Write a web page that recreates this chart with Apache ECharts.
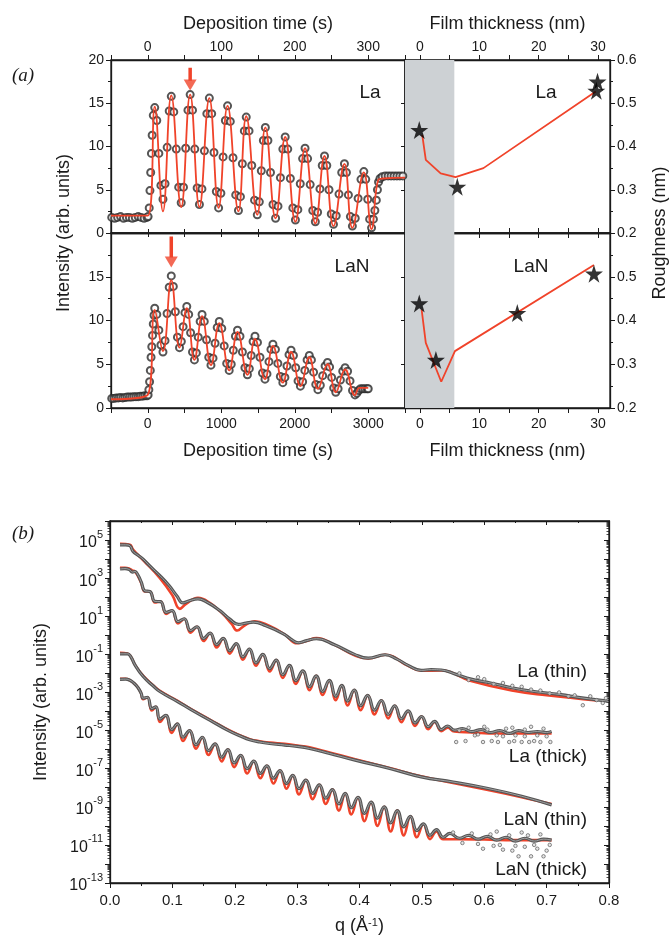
<!DOCTYPE html>
<html>
<head>
<meta charset="utf-8">
<script src="https://cdn.jsdelivr.net/npm/echarts@6.0.0/dist/echarts.min.js"></script>
<style>
  html, body { margin: 0; padding: 0; background: #fff; }
  #chart { width: 670px; height: 943px; }
</style>
</head>
<body>
<div id="chart"></div>
<script>
// ---- (a) in-situ intensity during deposition: [time s, intensity] ----
const laMeasured = [
  [-49, 1.8], [-45, 1.7], [-41, 1.8], [-37, 1.9], [-33, 1.7], [-29, 1.8], [-25, 1.8], [-21, 1.7], [-17, 1.8], [-13, 1.9], [-9, 1.8], [-5, 1.7], [-1, 1.8],
  [0.5, 1.9], [2, 2.9], [3, 4.9], [4, 7.0], [5, 9.2], [6, 11.3], [7.5, 13.6], [9.5, 14.5],
  [12.3, 13.0], [15.1, 9.2], [17.9, 5.5], [20.7, 3.9], [23.5, 5.7], [26.4, 9.9], [29.2, 14.1], [32, 15.8],
  [35.4, 14.0], [38.8, 9.7], [42.1, 5.3], [45.5, 3.5], [48.6, 5.3], [51.6, 9.8], [54.7, 14.2], [57.7, 16.0],
  [60.9, 14.2], [64, 9.7], [67.2, 5.2], [70.3, 3.3], [73.7, 5.1], [77.1, 9.5], [80.4, 13.8], [83.8, 15.6],
  [87, 13.8], [90.1, 9.3], [93.3, 4.8], [96.4, 2.9], [99.5, 4.6], [102.5, 8.8], [105.6, 13.0], [108.6, 14.7],
  [112.3, 12.9], [116, 8.7], [119.7, 4.4], [123.4, 2.6], [126.1, 4.2], [128.7, 8.0], [131.4, 11.8], [134, 13.4],
  [137.8, 11.8], [141.5, 7.8], [145.3, 3.8], [149, 2.1], [151.8, 3.6], [154.5, 7.2], [157.3, 10.7], [160, 12.2],
  [163.5, 10.7], [167, 7.0], [170.4, 3.3], [173.9, 1.7], [177.2, 3.1], [180.5, 6.4], [183.8, 9.7], [187, 11.1],
  [190.5, 9.7], [194, 6.3], [197.4, 2.9], [200.9, 1.5], [204.2, 2.7], [207.5, 5.7], [210.7, 8.6], [214, 9.8],
  [217.5, 8.6], [221, 5.6], [224.5, 2.6], [228, 1.3], [231.1, 2.4], [234.3, 5.1], [237.4, 7.8], [240.5, 8.9],
  [243.6, 7.8], [246.6, 5.0], [249.7, 2.2], [252.7, 1.0], [256.4, 2.0], [260.2, 4.5], [263.9, 7.0], [267.6, 8.0],
  [270.3, 7.0], [273, 4.4], [275.7, 1.9], [278.4, 0.8], [282.3, 1.7], [286.2, 4.0], [290.1, 6.2], [294, 7.1],
  [296.6, 6.2], [299.3, 3.9], [301.9, 1.6], [304.5, 0.6], [307, 1.6], [309, 2.6], [311, 3.8], [312.5, 5.0], [314, 5.9],
  [316, 6.3], [319, 6.5], [323, 6.6], [327, 6.6], [331, 6.6], [335, 6.6], [339, 6.6], [343, 6.6], [347, 6.6]
];
const laFit = [
  [-50, 2.0], [0, 2.0], [9.5, 14.6], [20.7, 2.5], [32, 15.9], [45.5, 3.0], [57.7, 16.0], [70.3, 3.0],
  [83.8, 15.6], [96.4, 2.9], [108.6, 14.7], [123.4, 2.5], [134, 13.5], [149, 2.1], [160, 12.2],
  [173.9, 1.7], [187, 11.1], [200.9, 1.3], [214, 9.8], [228, 1.1], [240.5, 8.9], [252.7, 0.8],
  [267.6, 8.0], [278.4, 0.6], [294, 7.0], [304.5, 0.45], [314, 6.2], [320, 6.3], [350, 6.4]
];
const laArrow = [[57.7, 19.1], [57.7, 17.6]];
const laArrowHead = [[57.7, 17.1]];

const lanMeasured = [
  [-490, 1.1], [-460, 1.1], [-430, 1.15], [-400, 1.15], [-370, 1.2], [-340, 1.15], [-310, 1.2], [-280, 1.25], [-250, 1.25],
  [-220, 1.25], [-190, 1.3], [-160, 1.3], [-130, 1.3], [-100, 1.35], [-70, 1.35], [-40, 1.4], [-10, 1.4],
  [5, 1.5], [15, 2.1], [25, 3.0], [35, 4.3], [45, 5.8], [55, 7.0], [65, 8.3], [75, 9.6], [85, 10.6], [95, 11.4],
  [123, 10.7], [151, 8.9], [179, 7.2], [207, 6.4], [235, 7.7], [263, 10.8], [292, 13.8], [320, 15.1],
  [348, 13.9], [376, 11.0], [404, 8.1], [432, 6.9], [457, 7.6], [481, 9.3], [506, 10.9], [531, 11.6],
  [557, 10.7], [583, 8.6], [609, 6.4], [635, 5.5], [661, 6.3], [687, 8.1], [713, 9.9], [739, 10.7],
  [769, 9.9], [800, 7.8], [830, 5.8], [860, 4.9], [888, 5.7], [916, 7.4], [945, 9.2], [973, 9.9],
  [1007, 9.1], [1040, 7.1], [1074, 5.1], [1108, 4.3], [1136, 5.0], [1164, 6.6], [1193, 8.2], [1221, 8.9],
  [1255, 8.2], [1288, 6.4], [1322, 4.6], [1356, 3.8], [1382, 4.5], [1407, 6.0], [1433, 7.6], [1459, 8.2],
  [1493, 7.5], [1527, 5.8], [1561, 4.0], [1595, 3.3], [1622, 3.9], [1649, 5.3], [1676, 6.7], [1703, 7.3],
  [1737, 6.7], [1770, 5.1], [1804, 3.6], [1838, 2.9], [1866, 3.5], [1894, 4.8], [1922, 6.1], [1950, 6.6],
  [1982, 6.0], [2013, 4.6], [2045, 3.1], [2077, 2.5], [2107, 3.0], [2137, 4.3], [2168, 5.5], [2198, 6.0],
  [2227, 5.5], [2256, 4.1], [2286, 2.7], [2315, 2.1], [2348, 2.6], [2380, 3.7], [2413, 4.8], [2446, 5.2],
  [2474, 4.7], [2502, 3.5], [2530, 2.3], [2558, 1.8], [2590, 2.2], [2621, 3.2], [2653, 4.2], [2685, 4.6],
  [2719, 4.2], [2752, 3.1], [2786, 2.0], [2820, 1.5], [2845, 1.7], [2870, 2.0], [2895, 2.2], [2925, 2.2],
  [2955, 2.2], [2985, 2.2], [3000, 2.2]
];
const lanFit = [
  [-500, 1.0], [0, 1.5], [95, 11.2], [207, 6.5], [320, 14.6], [432, 6.9], [531, 11.4], [635, 5.5],
  [739, 10.5], [860, 4.9], [973, 9.7], [1108, 4.3], [1221, 8.7], [1356, 3.8], [1459, 7.9],
  [1595, 3.3], [1703, 7.1], [1838, 2.9], [1950, 6.4], [2077, 2.5], [2198, 5.8], [2315, 2.2],
  [2446, 5.0], [2558, 1.8], [2685, 4.4], [2820, 1.45], [2880, 2.3], [3000, 2.3]
];
const lanArrow = [[320, 19.6], [320, 17.2]];
const lanArrowHead = [[320, 16.7]];

// ---- (a) roughness vs film thickness: [nm, nm] ----
const laRoughFit = [[0.4, 0.427], [1.0, 0.369], [3.5, 0.338], [6.0, 0.329], [10.7, 0.35], [29.6, 0.527]];
const laRoughStars = [[-0.1, 0.438], [6.3, 0.307], [29.9, 0.55], [29.7, 0.529]];
const lanRoughFit = [[0.3, 0.425], [1.0, 0.349], [3.6, 0.26], [5.9, 0.33], [29.3, 0.527]];
const lanRoughStars = [[-0.1, 0.439], [2.7, 0.31], [16.4, 0.417], [29.3, 0.507]];
const shadeRange = [-2.5, 5.8];

// ---- (b) XRR curves: [q 1/A, log10 intensity] ----
const laThinData = [
  [0.016, 4.75], [0.025, 4.75], [0.032, 4.7], [0.037, 4.4], [0.045, 4.2], [0.053, 4.0], [0.065, 3.6], [0.080, 3.13],
  [0.095, 2.6], [0.107, 2.08], [0.117, 1.70], [0.126, 1.8], [0.141, 1.91], [0.155, 1.75], [0.176, 1.30], [0.192, 0.85],
  [0.206, 0.57], [0.218, 0.64], [0.230, 0.69], [0.250, 0.50], [0.278, 0.08], [0.290, -0.2], [0.302, -0.39], [0.315, -0.28],
  [0.331, -0.18], [0.36, -0.5], [0.392, -1.0], [0.414, -1.2], [0.441, -1.02], [0.46, -1.25], [0.478, -1.58], [0.499, -1.84],
  [0.515, -1.8], [0.531, -1.82], [0.555, -2.05], [0.579, -2.3], [0.61, -2.5], [0.644, -2.75], [0.68, -2.95], [0.72, -3.1],
  [0.76, -3.3], [0.798, -3.45]
];
const laThinFit = [
  [0.016, 4.8], [0.032, 4.75], [0.037, 4.5], [0.053, 3.95], [0.080, 3.0], [0.100, 2.1], [0.112, 1.39], [0.122, 1.65],
  [0.141, 1.97], [0.160, 1.7], [0.180, 1.15], [0.195, 0.6], [0.204, 0.25], [0.215, 0.5], [0.232, 0.74], [0.255, 0.5],
  [0.28, 0.05], [0.30, -0.42], [0.315, -0.3], [0.331, -0.15], [0.36, -0.5], [0.392, -1.05], [0.414, -1.22], [0.441, -1.02],
  [0.478, -1.6], [0.499, -1.86], [0.531, -1.85], [0.579, -2.4], [0.644, -2.9], [0.70, -3.15], [0.78, -3.42]
];
const laThinScatter = [
  [0.56, -2.0], [0.575, -2.35], [0.59, -2.2], [0.60, -2.3], [0.615, -2.55], [0.63, -2.5], [0.645, -2.65], [0.66, -2.7],
  [0.675, -2.85], [0.69, -2.9], [0.705, -3.05], [0.72, -3.0], [0.735, -3.2], [0.745, -3.15], [0.758, -3.67], [0.77, -3.2],
  [0.78, -3.4], [0.79, -3.55], [0.795, -3.3]
];

const laThickData = [
  [0.016, 3.48], [0.024, 3.5], [0.031, 3.45], [0.036, 3.32], [0.040, 3.35], [0.045, 3.15], [0.050, 2.8],
  [0.056, 2.33], [0.064, 2.3], [0.072, 1.78], [0.081, 1.77], [0.090, 1.2], [0.0995, 1.3], [0.109, 0.72], [0.119, 0.87],
  [0.129, 0.25], [0.1395, 0.45], [0.150, -0.17], [0.1605, 0.12], [0.171, -0.49], [0.1815, -0.16], [0.192, -0.81], [0.2025, -0.44],
  [0.213, -1.13], [0.2235, -0.72], [0.234, -1.45], [0.245, -1.0], [0.256, -1.75], [0.2665, -1.3], [0.277, -2.07], [0.2875, -1.58],
  [0.298, -2.38], [0.309, -1.87], [0.320, -2.7], [0.3305, -2.13], [0.341, -2.95], [0.3515, -2.37], [0.362, -3.2], [0.3715, -2.63],
  [0.381, -3.45], [0.3915, -2.87], [0.402, -3.7], [0.413, -3.15], [0.424, -3.93], [0.435, -3.42], [0.446, -4.15], [0.4565, -3.7],
  [0.467, -4.38], [0.478, -3.97], [0.489, -4.6], [0.4995, -4.26], [0.510, -4.8], [0.5205, -4.52], [0.531, -4.95], [0.5415, -4.76],
  [0.552, -4.98], [0.565, -4.9], [0.58, -5.05], [0.595, -4.95], [0.61, -5.1], [0.625, -5.0], [0.64, -5.15], [0.655, -5.0],
  [0.67, -5.1], [0.685, -5.05], [0.70, -5.1], [0.708, -5.05]
];
const laThickFit = [
  [0.016, 3.55], [0.024, 3.55], [0.031, 3.5], [0.036, 3.4], [0.040, 3.35], [0.045, 3.1], [0.050, 2.75],
  [0.056, 2.3], [0.064, 2.3], [0.072, 1.72], [0.081, 1.77], [0.090, 1.12], [0.0995, 1.3], [0.109, 0.62], [0.119, 0.87],
  [0.129, 0.14], [0.1395, 0.45], [0.150, -0.3], [0.1605, 0.12], [0.171, -0.64], [0.1815, -0.16], [0.192, -0.96], [0.2025, -0.44],
  [0.213, -1.28], [0.2235, -0.72], [0.234, -1.6], [0.245, -1.0], [0.256, -1.9], [0.2665, -1.3], [0.277, -2.24], [0.2875, -1.58],
  [0.298, -2.55], [0.309, -1.87], [0.320, -2.88], [0.3305, -2.13], [0.341, -3.13], [0.3515, -2.37], [0.362, -3.4], [0.3715, -2.63],
  [0.381, -3.68], [0.3915, -2.87], [0.402, -3.93], [0.413, -3.15], [0.424, -4.15], [0.435, -3.42], [0.446, -4.36], [0.4565, -3.7],
  [0.467, -4.56], [0.478, -3.97], [0.489, -4.76], [0.4995, -4.26], [0.510, -4.93], [0.5205, -4.55], [0.531, -5.03], [0.5415, -4.85],
  [0.552, -5.05], [0.58, -5.1], [0.62, -5.15], [0.66, -5.15], [0.708, -5.15]
];
const laThickScatter = [
  [0.555, -5.6], [0.57, -5.55], [0.585, -5.25], [0.598, -5.6], [0.612, -5.55], [0.622, -5.6], [0.63, -5.3], [0.64, -5.6],
  [0.648, -5.55], [0.66, -5.6], [0.665, -5.3], [0.672, -5.6], [0.68, -5.55], [0.69, -5.6], [0.70, -5.3], [0.706, -5.6],
  [0.60, -4.8], [0.645, -4.85], [0.675, -4.8],
  [0.56, -5.0], [0.575, -4.85], [0.59, -5.2], [0.605, -4.95], [0.62, -5.25], [0.635, -4.9], [0.65, -5.25], [0.665, -4.95],
  [0.685, -5.25], [0.695, -4.9]
];

const lanThinData = [
  [0.016, -0.97], [0.028, -0.97], [0.033, -1.1], [0.04, -1.55], [0.053, -2.15], [0.069, -2.65], [0.08, -2.95], [0.107, -3.45],
  [0.13, -3.9], [0.16, -4.45], [0.19, -5.0], [0.21, -5.3], [0.224, -5.48], [0.24, -5.6], [0.256, -5.68], [0.28, -5.76],
  [0.30, -5.83], [0.32, -5.94], [0.352, -6.2], [0.393, -6.55], [0.45, -7.0], [0.499, -7.43], [0.55, -7.7], [0.606, -8.04],
  [0.66, -8.45], [0.708, -8.9]
];
const lanThinFit = [
  [0.016, -0.92], [0.028, -0.95], [0.033, -1.1], [0.04, -1.55], [0.053, -2.12], [0.069, -2.62], [0.08, -2.92], [0.107, -3.42],
  [0.13, -3.88], [0.16, -4.42], [0.19, -4.97], [0.21, -5.27], [0.224, -5.45], [0.24, -5.56], [0.256, -5.63], [0.28, -5.7],
  [0.30, -5.78], [0.32, -5.88], [0.352, -6.15], [0.393, -6.5], [0.45, -6.98], [0.499, -7.4], [0.55, -7.75], [0.606, -8.12],
  [0.66, -8.5], [0.708, -8.85]
];

const lanThickData = [
  [0.016, -2.31], [0.025, -2.3], [0.032, -2.36], [0.038, -2.5], [0.045, -2.75], [0.050, -3.05],
  [0.053, -3.3], [0.060, -3.25], [0.067, -3.85], [0.0735, -3.75], [0.080, -4.4], [0.0895, -4.2], [0.099, -4.95], [0.108, -4.65],
  [0.117, -5.35], [0.1275, -5.0], [0.138, -5.75], [0.148, -5.35], [0.158, -6.05], [0.1685, -5.7], [0.179, -6.4], [0.189, -6.0],
  [0.199, -6.7], [0.2095, -6.3], [0.220, -7.0], [0.2305, -6.6], [0.241, -7.25], [0.2515, -6.85], [0.262, -7.5], [0.2725, -7.1],
  [0.283, -7.78], [0.293, -7.35], [0.303, -8.05], [0.314, -7.6], [0.325, -8.3], [0.3355, -7.85], [0.346, -8.55], [0.3565, -8.1],
  [0.367, -8.85], [0.377, -8.3], [0.387, -9.05], [0.3975, -8.5], [0.408, -9.35], [0.4185, -8.75], [0.429, -9.6], [0.4395, -9.0],
  [0.450, -9.85], [0.4605, -9.2], [0.471, -10.05], [0.4815, -9.5], [0.492, -10.25], [0.5025, -9.9], [0.513, -10.5], [0.5235, -10.2],
  [0.534, -10.6], [0.545, -10.4], [0.56, -10.65], [0.575, -10.5], [0.59, -10.7], [0.605, -10.55], [0.62, -10.75], [0.635, -10.6],
  [0.65, -10.8], [0.665, -10.65], [0.68, -10.8], [0.695, -10.7], [0.708, -10.75]
];
const lanThickFit = [
  [0.016, -2.28], [0.025, -2.28], [0.032, -2.36], [0.038, -2.5], [0.045, -2.75], [0.050, -3.05],
  [0.053, -3.35], [0.060, -3.25], [0.067, -3.95], [0.0735, -3.75], [0.080, -4.55], [0.0895, -4.2], [0.099, -5.12], [0.108, -4.65],
  [0.117, -5.55], [0.1275, -5.0], [0.138, -5.95], [0.148, -5.35], [0.158, -6.28], [0.1685, -5.7], [0.179, -6.62], [0.189, -6.0],
  [0.199, -6.92], [0.2095, -6.3], [0.220, -7.25], [0.2305, -6.6], [0.241, -7.5], [0.2515, -6.85], [0.262, -7.78], [0.2725, -7.1],
  [0.283, -8.05], [0.293, -7.35], [0.303, -8.35], [0.314, -7.6], [0.325, -8.6], [0.3355, -7.85], [0.346, -8.85], [0.3565, -8.1],
  [0.367, -9.2], [0.377, -8.3], [0.387, -9.4], [0.3975, -8.5], [0.408, -9.75], [0.4185, -8.75], [0.429, -10.0], [0.4395, -9.0],
  [0.450, -10.3], [0.4605, -9.2], [0.471, -10.5], [0.4815, -9.5], [0.492, -10.6], [0.5025, -9.9], [0.513, -10.7], [0.5235, -10.3],
  [0.534, -10.7], [0.56, -10.7], [0.60, -10.72], [0.65, -10.75], [0.708, -10.75]
];
const lanThickScatter = [
  [0.598, -11.2], [0.615, -11.05], [0.63, -11.25], [0.645, -11.3], [0.655, -11.6], [0.665, -11.1],
  [0.675, -11.6], [0.685, -11.2], [0.695, -11.6], [0.70, -11.3], [0.62, -10.3], [0.66, -10.35],
  [0.55, -10.35], [0.565, -10.9], [0.58, -10.4], [0.59, -10.95], [0.61, -10.45], [0.625, -11.0], [0.64, -10.5],
  [0.65, -11.05], [0.67, -10.5], [0.68, -11.0], [0.69, -10.45], [0.705, -11.0]
];

const FONT = '"Liberation Sans", Arial, sans-serif';
const INK = '#1a1a1a';
const RED = '#f0432a';
const STAR = 'path://M50,0 L61,35 L98,35 L68,57 L79,91 L50,70 L21,91 L32,57 L2,35 L39,35 Z';

// minor log ticks for the intensity axis of (b)
const logMinorTicks = [];
for (let e = -13; e < 6; e++) {
  for (let k = 2; k <= 9; k++) logMinorTicks.push(e + Math.log10(k));
}

function frameAxis(gridIndex, position, range, extra) {
  return Object.assign({
    gridIndex, position, type: 'value', min: range[0], max: range[1],
    axisLine: { show: true, onZero: false, lineStyle: { color: INK, width: 1.3 } },
    axisTick: { show: true, inside: true, length: 4, lineStyle: { color: INK } },
    axisLabel: { show: false },
    splitLine: { show: false },
  }, extra || {});
}

function labelAxis(gridIndex, position, range, extra) {
  return Object.assign({
    gridIndex, position, type: 'value', min: range[0], max: range[1],
    axisLine: { show: true, onZero: false, lineStyle: { color: INK, width: 1.3 } },
    axisTick: { show: true, length: 5, lineStyle: { color: INK } },
    axisLabel: { color: INK, fontFamily: FONT, fontSize: 14, margin: 7 },
    nameTextStyle: { color: INK, fontFamily: FONT, fontSize: 18 },
    nameLocation: 'middle',
    splitLine: { show: false },
  }, extra || {});
}

const thickTicks = [0, 5, 10, 15, 20, 25, 30];
const thickLabels = [0, 10, 20, 30];

const chart = echarts.init(document.getElementById('chart'), null, { renderer: 'canvas' });

chart.setOption({
  backgroundColor: '#fff',
  animation: false,
  grid: [
    { left: 111, top: 60, width: 294, height: 173, show: true, borderColor: INK, borderWidth: 1.3, outerBoundsMode: 'none' },
    { left: 111, top: 233, width: 294, height: 175, show: true, borderColor: INK, borderWidth: 1.3, outerBoundsMode: 'none' },
    { left: 405, top: 60, width: 205, height: 173, show: true, borderColor: INK, borderWidth: 1.3, outerBoundsMode: 'none' },
    { left: 405, top: 233, width: 205, height: 175, show: true, borderColor: INK, borderWidth: 1.3, outerBoundsMode: 'none' },
    { left: 110, top: 521, width: 499, height: 362, show: true, borderColor: INK, borderWidth: 1.3, outerBoundsMode: 'none' },
  ],
  xAxis: [
    labelAxis(0, 'top', [-50, 350], {
      interval: 50, name: 'Deposition time (s)', nameGap: 27,
      axisLabel: { color: INK, fontFamily: FONT, fontSize: 14, margin: 6, formatter: v => (v >= 0 && v % 100 === 0 ? v : '') },
    }),
    frameAxis(0, 'bottom', [-50, 350], { interval: 50 }),
    labelAxis(1, 'bottom', [-500, 3500], {
      interval: 500, name: 'Deposition time (s)', nameGap: 34,
      axisLabel: { color: INK, fontFamily: FONT, fontSize: 14, margin: 9, formatter: v => (v >= 0 && v % 1000 === 0 ? v : '') },
    }),
    frameAxis(1, 'top', [-500, 3500], { interval: 500 }),
    labelAxis(2, 'top', [-2.5, 32], {
      name: 'Film thickness (nm)', nameGap: 27,
      axisTick: { show: true, length: 5, customValues: thickTicks, lineStyle: { color: INK } },
      axisLabel: { color: INK, fontFamily: FONT, fontSize: 14, margin: 6, customValues: thickLabels },
    }),
    frameAxis(2, 'bottom', [-2.5, 32], { axisTick: { show: true, inside: true, length: 5, customValues: thickTicks, lineStyle: { color: INK } } }),
    labelAxis(3, 'bottom', [-2.5, 32], {
      name: 'Film thickness (nm)', nameGap: 34,
      axisTick: { show: true, length: 5, customValues: thickTicks, lineStyle: { color: INK } },
      axisLabel: { color: INK, fontFamily: FONT, fontSize: 14, margin: 9, customValues: thickLabels },
    }),
    frameAxis(3, 'top', [-2.5, 32], { axisTick: { show: true, inside: true, length: 5, customValues: thickTicks, lineStyle: { color: INK } } }),
    labelAxis(4, 'bottom', [0, 0.8], {
      interval: 0.1, name: '{n|q (Å}{s|-1}{n|)}', nameGap: 34,
      minorTick: { show: true, splitNumber: 2, length: 3, lineStyle: { color: INK } },
      axisLabel: { color: INK, fontFamily: FONT, fontSize: 15, margin: 10, formatter: v => v.toFixed(1) },
      nameTextStyle: {
        color: INK, fontFamily: FONT, fontSize: 18,
        rich: {
          n: { fontFamily: FONT, fontSize: 18, color: INK },
          s: { fontFamily: FONT, fontSize: 11, color: INK, verticalAlign: 'top', padding: [0, 0, 8, 0] },
        },
      },
    }),
    frameAxis(4, 'top', [0, 0.8], { interval: 0.1, minorTick: { show: true, splitNumber: 2, length: 2, lineStyle: { color: INK } } }),
  ],
  yAxis: [
    labelAxis(0, 'left', [0, 20], { interval: 5, minorTick: { show: true, splitNumber: 2, length: 3, lineStyle: { color: INK } } }),
    frameAxis(0, 'right', [0, 20], { interval: 5 }),
    labelAxis(1, 'left', [0, 20], {
      interval: 5, minorTick: { show: true, splitNumber: 2, length: 3, lineStyle: { color: INK } },
      axisLabel: { color: INK, fontFamily: FONT, fontSize: 14, margin: 7, formatter: v => (v === 20 ? '' : v) },
    }),
    frameAxis(1, 'right', [0, 20], { interval: 5 }),
    labelAxis(2, 'right', [0.2, 0.6], {
      interval: 0.1, minorTick: { show: true, splitNumber: 2, length: 3, lineStyle: { color: INK } },
      axisLabel: { color: INK, fontFamily: FONT, fontSize: 14, margin: 7, formatter: v => v.toFixed(1) },
    }),
    frameAxis(2, 'left', [0.2, 0.6], { interval: 0.1, minorTick: { show: true, splitNumber: 2, length: 2, lineStyle: { color: INK } } }),
    labelAxis(3, 'right', [0.2, 0.6], {
      interval: 0.1, minorTick: { show: true, splitNumber: 2, length: 3, lineStyle: { color: INK } },
      axisLabel: { color: INK, fontFamily: FONT, fontSize: 14, margin: 7, formatter: v => (v > 0.55 ? '' : v.toFixed(1)) },
    }),
    frameAxis(3, 'left', [0.2, 0.6], { interval: 0.1, minorTick: { show: true, splitNumber: 2, length: 2, lineStyle: { color: INK } } }),
    labelAxis(4, 'left', [-13, 6], {
      interval: 1, name: 'Intensity (arb. units)', nameGap: 60,
      axisTick: { show: true, length: 5, lineStyle: { color: INK } },
      axisLabel: {
        color: INK, fontFamily: FONT, fontSize: 15, margin: 7,
        formatter: v => (Math.abs(v) % 2 === 1 ? '{b|10}{s|' + v + '}' : ''),
        rich: {
          b: { fontFamily: FONT, fontSize: 16, color: INK, verticalAlign: 'bottom', lineHeight: 22 },
          s: { fontFamily: FONT, fontSize: 11, color: INK, verticalAlign: 'top', lineHeight: 22 },
        },
      },
    }),
    frameAxis(4, 'right', [-13, 6], { interval: 1, axisTick: { show: true, inside: true, length: 5, lineStyle: { color: INK } } }),
    frameAxis(4, 'left', [-13, 6], { axisLine: { show: false, onZero: false }, axisTick: { show: true, length: 2.5, customValues: logMinorTicks, lineStyle: { color: INK, width: 0.8 } } }),
    frameAxis(4, 'right', [-13, 6], { axisLine: { show: false, onZero: false }, axisTick: { show: true, inside: true, length: 2.5, customValues: logMinorTicks, lineStyle: { color: INK, width: 0.8 } } }),
  ],
  series: [
    // (a) La intensity
    {
      type: 'scatter', xAxisIndex: 0, yAxisIndex: 0, data: laMeasured, symbol: 'emptyCircle', symbolSize: 7,
      itemStyle: { color: '#2a2a2a', borderWidth: 0.9 }, z: 2,
    },
    {
      type: 'line', xAxisIndex: 0, yAxisIndex: 0, data: laFit, smooth: 0.45, showSymbol: false,
      lineStyle: { color: RED, width: 1.8 }, z: 3,
    },
    { type: 'line', xAxisIndex: 0, yAxisIndex: 0, data: laArrow, showSymbol: false, lineStyle: { color: RED, width: 3.5 }, z: 4 },
    {
      type: 'scatter', xAxisIndex: 0, yAxisIndex: 0, data: laArrowHead, symbol: 'triangle', symbolRotate: 180,
      symbolSize: [13, 11], itemStyle: { color: RED }, z: 4,
    },
    // (a) LaN intensity
    {
      type: 'scatter', xAxisIndex: 2, yAxisIndex: 2, data: lanMeasured, symbol: 'emptyCircle', symbolSize: 7,
      itemStyle: { color: '#2a2a2a', borderWidth: 0.9 }, z: 2,
    },
    {
      type: 'line', xAxisIndex: 2, yAxisIndex: 2, data: lanFit, smooth: 0.45, showSymbol: false,
      lineStyle: { color: RED, width: 1.8 }, z: 3,
    },
    { type: 'line', xAxisIndex: 2, yAxisIndex: 2, data: lanArrow, showSymbol: false, lineStyle: { color: RED, width: 3.5 }, z: 4 },
    {
      type: 'scatter', xAxisIndex: 2, yAxisIndex: 2, data: lanArrowHead, symbol: 'triangle', symbolRotate: 180,
      symbolSize: [13, 11], itemStyle: { color: RED }, z: 4,
    },
    // (a) roughness La
    {
      type: 'line', xAxisIndex: 4, yAxisIndex: 4, data: laRoughFit, showSymbol: false,
      lineStyle: { color: RED, width: 1.8 }, z: 3,
      markArea: { silent: true, itemStyle: { color: '#cdd1d4' }, data: [[{ xAxis: shadeRange[0] }, { xAxis: shadeRange[1] }]] },
    },
    { type: 'scatter', xAxisIndex: 4, yAxisIndex: 4, data: laRoughStars, z: 4, symbolSize: 18, symbol: STAR, itemStyle: { color: '#000' } },
    // (a) roughness LaN
    {
      type: 'line', xAxisIndex: 6, yAxisIndex: 6, data: lanRoughFit, showSymbol: false,
      lineStyle: { color: RED, width: 1.8 }, z: 3,
      markArea: { silent: true, itemStyle: { color: '#cdd1d4' }, data: [[{ xAxis: shadeRange[0] }, { xAxis: shadeRange[1] }]] },
    },
    { type: 'scatter', xAxisIndex: 6, yAxisIndex: 6, data: lanRoughStars, z: 4, symbolSize: 18, symbol: STAR, itemStyle: { color: '#000' } },
    // (b) XRR fits (red, underneath) and measured data (dark grey band of open circles)
    ...[laThinFit, laThickFit, lanThinFit, lanThickFit].map(d => ({
      type: 'line', xAxisIndex: 8, yAxisIndex: 8, data: d, smooth: 0.45, showSymbol: false,
      lineStyle: { color: RED, width: 2.6 }, z: 2,
    })),
    ...[laThinData, laThickData, lanThinData, lanThickData].map(d => ({
      type: 'line', xAxisIndex: 8, yAxisIndex: 8, data: d, smooth: 0.45, showSymbol: false,
      lineStyle: { color: '#555', width: 3.2 }, z: 3,
    })),
    ...[laThinData, laThickData, lanThinData, lanThickData].map(d => ({
      type: 'line', xAxisIndex: 8, yAxisIndex: 8, data: d, smooth: 0.45, showSymbol: false,
      lineStyle: { color: '#a9a9a9', width: 0.9 }, z: 4,
    })),
    ...[laThinScatter, laThickScatter, lanThickScatter].map(d => ({
      type: 'scatter', xAxisIndex: 8, yAxisIndex: 8, data: d, symbol: 'circle', symbolSize: 3.5,
      itemStyle: { color: '#e0e0e0', borderColor: '#4a4a4a', borderWidth: 0.8 }, z: 3,
    })),
  ],
  graphic: [
    { type: 'text', x: 12, y: 66, style: { text: '(a)', fill: INK, fontFamily: '"Liberation Serif", serif', fontStyle: 'italic', fontSize: 19 } },
    { type: 'text', x: 12, y: 524, style: { text: '(b)', fill: INK, fontFamily: '"Liberation Serif", serif', fontStyle: 'italic', fontSize: 19 } },
    { type: 'text', x: 370, y: 93, style: { text: 'La', fill: INK, fontFamily: FONT, fontSize: 19, align: 'center', verticalAlign: 'middle' } },
    { type: 'text', x: 352, y: 267, style: { text: 'LaN', fill: INK, fontFamily: FONT, fontSize: 19, align: 'center', verticalAlign: 'middle' } },
    { type: 'text', x: 546, y: 93, style: { text: 'La', fill: INK, fontFamily: FONT, fontSize: 19, align: 'center', verticalAlign: 'middle' } },
    { type: 'text', x: 531, y: 267, style: { text: 'LaN', fill: INK, fontFamily: FONT, fontSize: 19, align: 'center', verticalAlign: 'middle' } },
    { type: 'text', x: 64, y: 233, rotation: Math.PI / 2, style: { text: 'Intensity (arb. units)', fill: INK, fontFamily: FONT, fontSize: 18, align: 'center', verticalAlign: 'middle' } },
    { type: 'text', x: 660, y: 233, rotation: Math.PI / 2, style: { text: 'Roughness (nm)', fill: INK, fontFamily: FONT, fontSize: 18, align: 'center', verticalAlign: 'middle' } },
    { type: 'text', x: 587, y: 672, style: { text: 'La (thin)', fill: INK, fontFamily: FONT, fontSize: 19, align: 'right', verticalAlign: 'middle' } },
    { type: 'text', x: 587, y: 757, style: { text: 'La (thick)', fill: INK, fontFamily: FONT, fontSize: 19, align: 'right', verticalAlign: 'middle' } },
    { type: 'text', x: 587, y: 820, style: { text: 'LaN (thin)', fill: INK, fontFamily: FONT, fontSize: 19, align: 'right', verticalAlign: 'middle' } },
    { type: 'text', x: 587, y: 870, style: { text: 'LaN (thick)', fill: INK, fontFamily: FONT, fontSize: 19, align: 'right', verticalAlign: 'middle' } },
  ],
});
</script>
</body>
</html>
